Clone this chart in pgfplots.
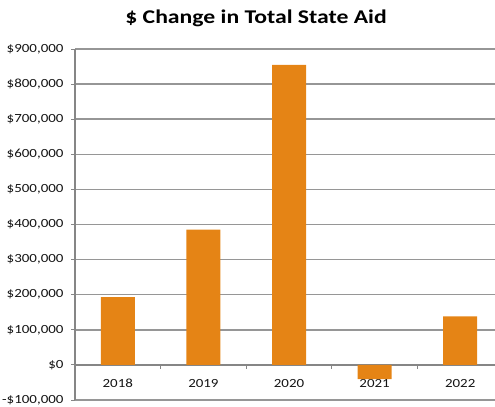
\documentclass[border=0pt]{standalone}
\usepackage{pgfplots}
\pgfplotsset{compat=1.18}
\usepackage{fontspec}
\setmainfont{Carlito}
\newfontfamily\tickfont[FakeStretch=1.2]{Carlito}
\newfontfamily\titlefont[FakeStretch=1.22]{Carlito}
\definecolor{barorange}{RGB}{229,132,21}
\definecolor{gridgray}{RGB}{150,150,150}
\definecolor{axisgray}{RGB}{134,134,134}
\definecolor{labelgray}{RGB}{20,20,20}
\begin{document}
\begin{tikzpicture}
\begin{axis}[
  at={(75bp,7bp)}, anchor=south west,
  scale only axis, width=420bp, height=351bp,
  xmin=-0.5, xmax=4.406, ymin=-100000, ymax=900000,
  scaled y ticks=false,
  axis x line=middle, axis y line=left,
  axis line style={-, axisgray, line width=1.8bp},
  hide obscured x ticks=false, hide obscured y ticks=false,
  tick align=outside,
  major tick length=4bp, minor tick length=4bp,
  tick style={axisgray, line width=1bp},
  major x tick style={draw=none},
  xtick={0,1,2,3,4},
  xticklabels={2018,2019,2020,2021,2022},
  minor xtick={0.5,1.5,2.5,3.5,4.5},
  ytick={-100000,0,100000,200000,300000,400000,500000,600000,700000,800000,900000},
  yticklabels={{-\$100,000},{\$0},{\$100,000},{\$200,000},{\$300,000},{\$400,000},{\$500,000},{\$600,000},{\$700,000},{\$800,000},{\$900,000}},
  ymajorgrids, grid style={gridgray, line width=1.5bp},
  tick label style={font=\tickfont\fontsize{12.5}{14}\selectfont, text=labelgray},
  yticklabel style={xshift=-4bp},
  xticklabel style={yshift=-6.5bp},
  /pgf/number format/assume math mode=true,
  ybar, bar width=34bp,
  clip=false,
]
\addplot[fill=barorange, draw=none] coordinates {
  (0,193400) (1,385700) (2,854500) (3,-40500) (4,138400)
};
\end{axis}
\node[font=\titlefont\bfseries\fontsize{19.5}{22}\selectfont] at (256bp,389bp) {\$ Change in Total State Aid};
\pgfresetboundingbox
\useasboundingbox (0,0) rectangle (495bp,407bp);
\end{tikzpicture}
\end{document}
